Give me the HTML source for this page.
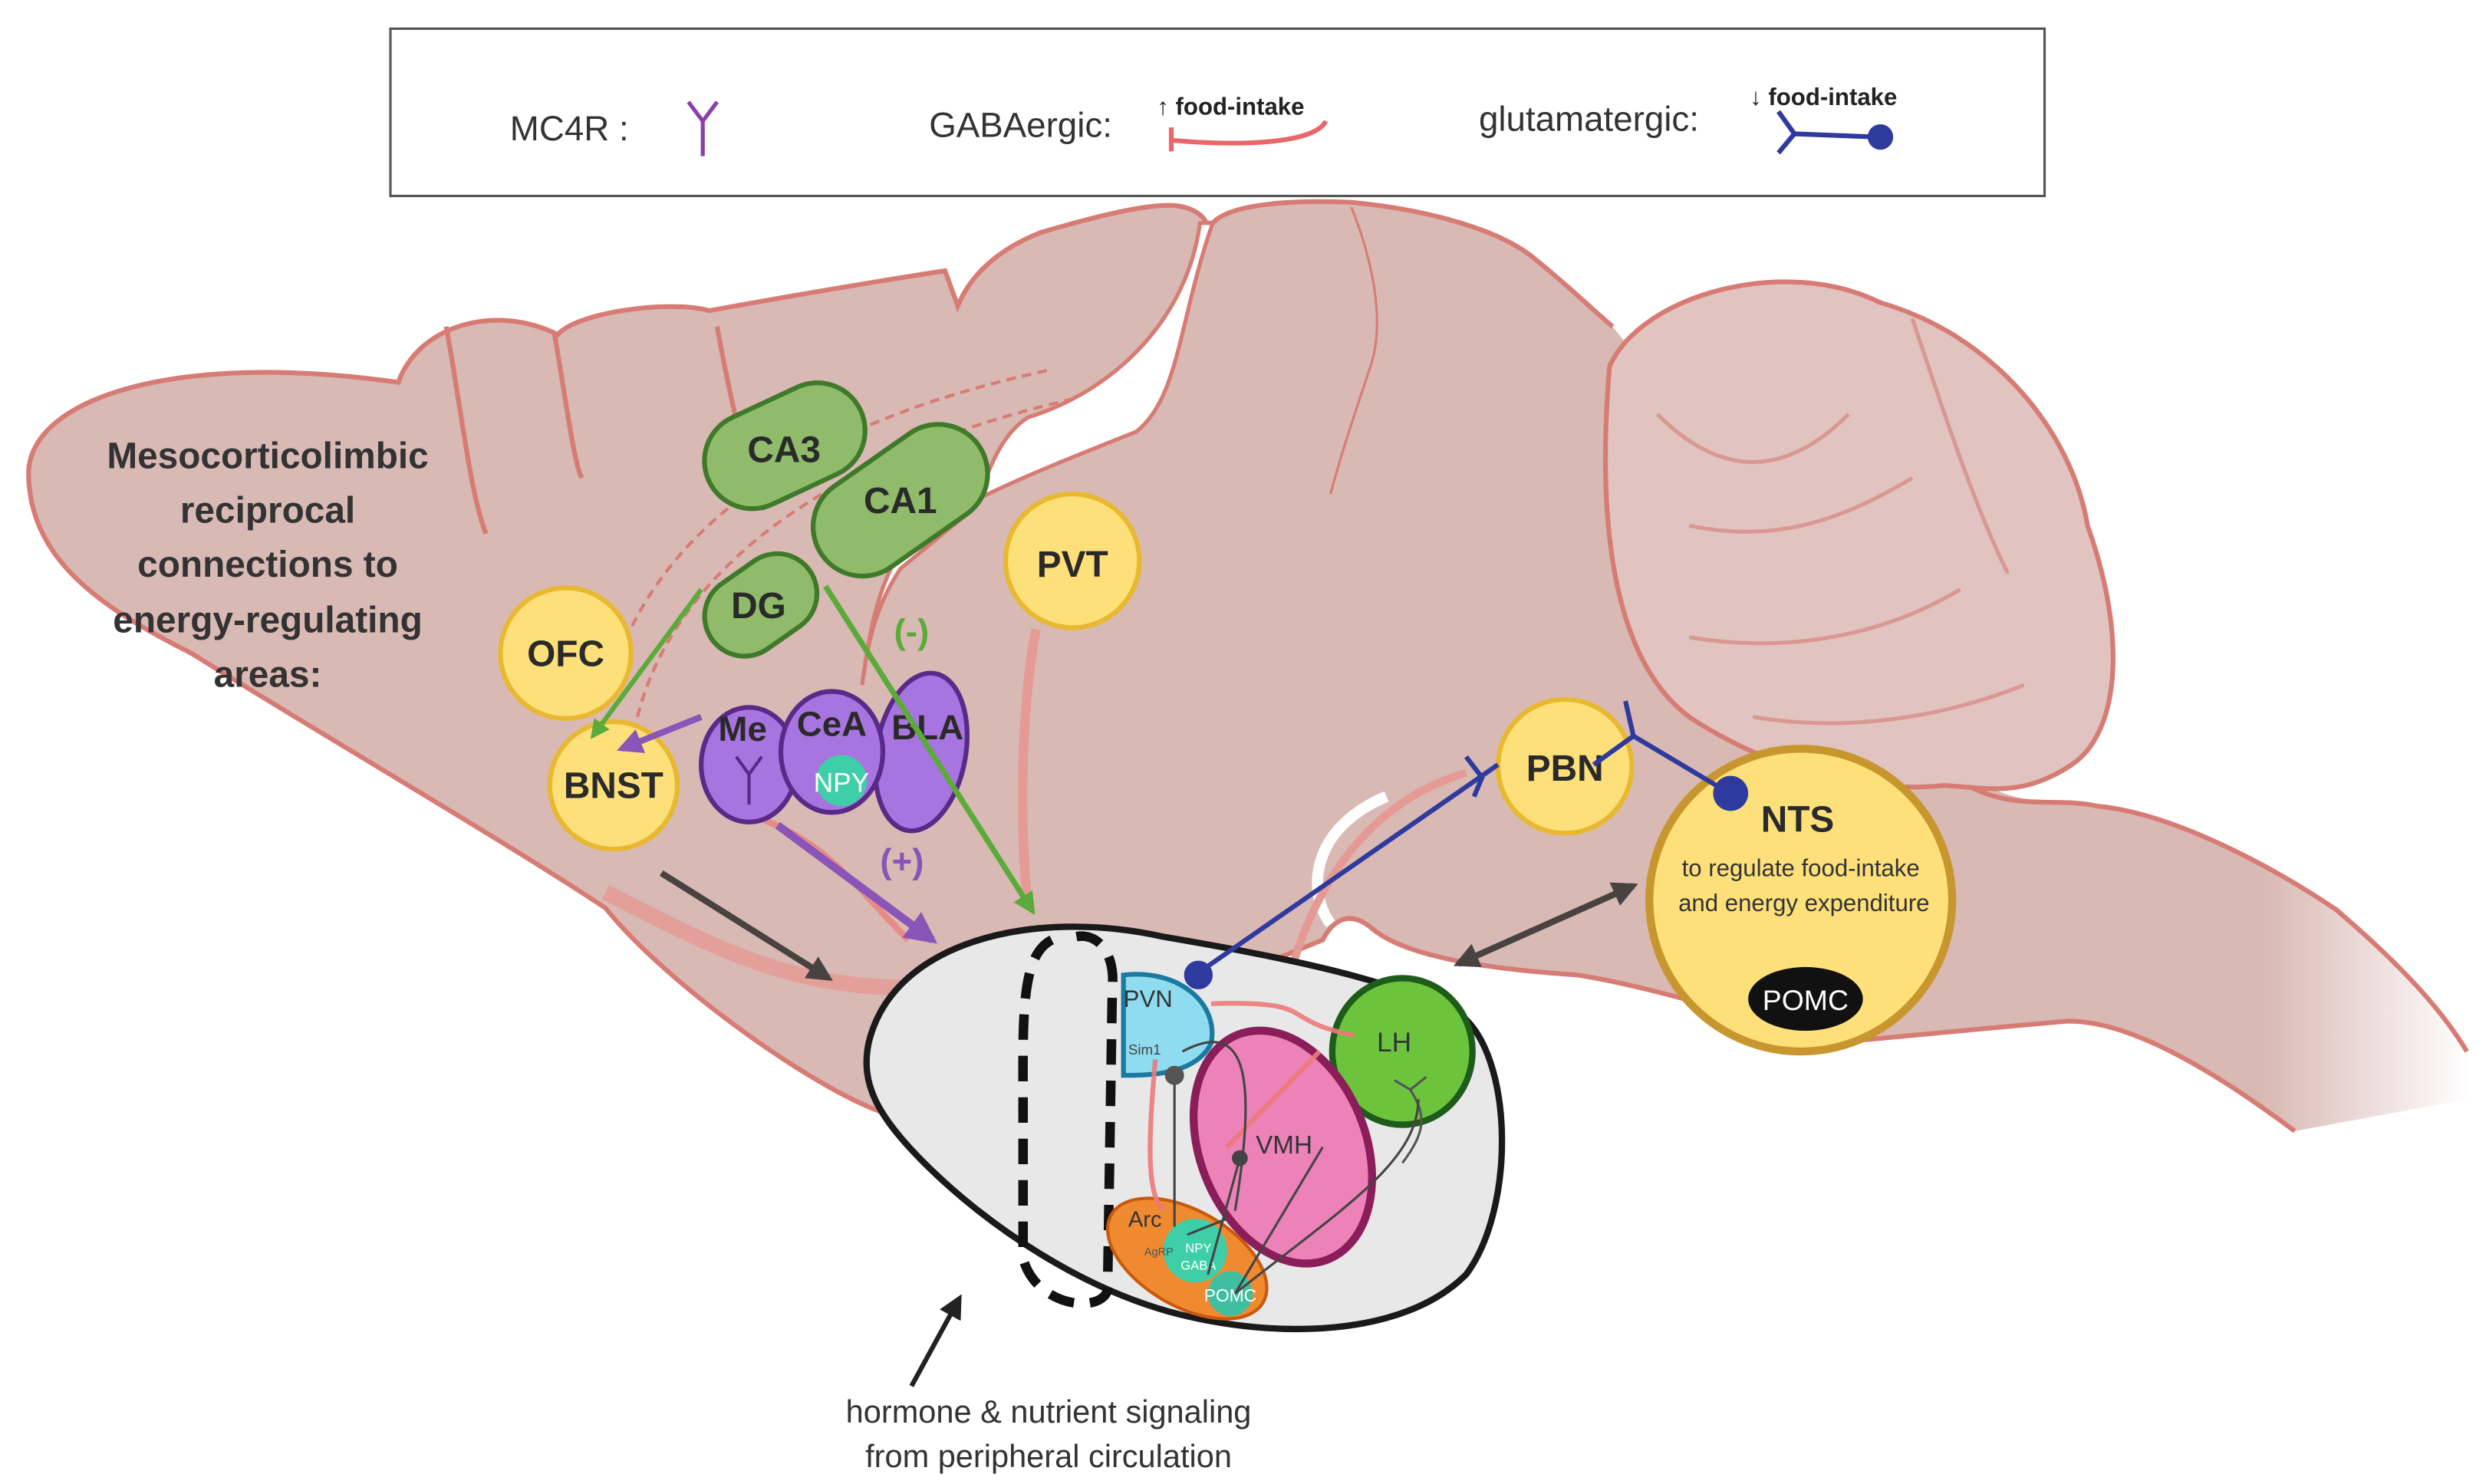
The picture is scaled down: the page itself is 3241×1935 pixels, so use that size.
<!DOCTYPE html>
<html><head><meta charset="utf-8"><style>
html,body{margin:0;padding:0;background:#fff;}
svg{display:block;}
text{font-family:"Liberation Sans",sans-serif;}
</style></head><body>
<svg width="3241" height="1935" viewBox="0 0 1560 931.5" preserveAspectRatio="none" xmlns="http://www.w3.org/2000/svg">
<defs>
<linearGradient id="fade" gradientUnits="userSpaceOnUse" x1="1420" x2="1550" y1="0" y2="0">
<stop offset="0" stop-color="#d9b9b3"/><stop offset="1" stop-color="#d9b9b3" stop-opacity="0"/>
</linearGradient>
<marker id="ag" viewBox="0 0 10 10" refX="8" refY="5" markerWidth="4" markerHeight="4" orient="auto"><path d="M0,0L10,5L0,10z" fill="#5aab3a"/></marker>
<marker id="ap" viewBox="0 0 10 10" refX="8" refY="5" markerWidth="4" markerHeight="4" orient="auto"><path d="M0,0L10,5L0,10z" fill="#8a55b8"/></marker>
<marker id="ad" viewBox="0 0 10 10" refX="8" refY="5" markerWidth="4" markerHeight="4" orient="auto"><path d="M0,0L10,5L0,10z" fill="#484341"/></marker>
<marker id="ads" viewBox="0 0 10 10" refX="2" refY="5" markerWidth="4" markerHeight="4" orient="auto"><path d="M10,0L0,5L10,10z" fill="#484341"/></marker>
<marker id="ak" viewBox="0 0 10 10" refX="8" refY="5" markerWidth="5" markerHeight="5" orient="auto"><path d="M0,0L10,5L0,10z" fill="#222"/></marker>
</defs>
<rect width="1560" height="931.5" fill="#fff"/>
<!-- legend -->
<rect x="245" y="18" width="1038" height="105" fill="#fff" stroke="#555" stroke-width="1.5"/>
<text x="320" y="88" font-size="22" fill="#333">MC4R :</text>
<path d="M432,64 L441,76 L450,64 M441,76 L441,98" stroke="#8a3fb0" stroke-width="2.5" fill="none"/>
<text x="583" y="86" font-size="22" fill="#333">GABAergic:</text>
<text x="726" y="72" font-size="15" font-weight="bold" fill="#222">↑ food-intake</text>
<path d="M735,80 L735,95 M735,88 C780,92 825,90 832,76" stroke="#e8686a" stroke-width="3" fill="none"/>
<text x="928" y="82" font-size="22" fill="#333">glutamatergic:</text>
<text x="1098" y="66" font-size="15" font-weight="bold" fill="#222">↓ food-intake</text>
<path d="M1116,70 L1126,84 L1116,96 M1126,84 L1178,86" stroke="#2f3a9e" stroke-width="3" fill="none"/>
<circle cx="1180" cy="86" r="8" fill="#2f3a9e"/>
<!-- brain -->
<path d="M18,300 C15,250 110,220 250,240 C262,205 310,190 350,210 C362,196 420,188 445,195 C500,185 560,175 593,170 L601,192 C610,170 630,155 653,146 C690,135 720,128 737,129 C748,130 755,135 757,140 L761,140 C770,130 800,125 848,127 C900,132 940,145 960,160 C985,180 1000,195 1012,205 L1230,480 C1260,510 1290,500 1316,506 C1360,510 1420,540 1466,571 C1500,600 1530,630 1548,660 L1548,690 L1440,710 C1400,680 1340,640 1297,641 C1250,645 1200,650 1156,654 C1100,640 1040,620 990,612 C930,608 880,600 860,582 C845,570 835,580 830,590 L560,700 C520,690 420,620 380,570 C320,530 200,460 120,410 C60,380 20,350 18,300 Z" fill="url(#fade)"/>
<path d="M1548,660 C1530,630 1500,600 1466,571 C1420,540 1360,510 1316,506 C1290,500 1260,510 1230,490 M1440,710 C1400,680 1340,640 1297,641 C1250,645 1200,650 1156,654 C1100,640 1040,620 990,612 C930,608 880,600 860,582 C845,570 835,580 830,590 L560,700 C520,690 420,620 380,570 C320,530 200,460 120,410 C60,380 20,350 18,300 C15,250 110,220 250,240 C262,205 310,190 350,210 C362,196 420,188 445,195 C500,185 560,175 593,170 L601,192 C610,170 630,155 653,146 C690,135 720,128 737,129 C748,130 755,135 757,140 L761,140 C770,130 800,125 848,127 C900,132 940,145 960,160 C985,180 1000,195 1012,205" fill="none" stroke="#d77c75" stroke-width="3"/>
<!-- gyri lines -->
<path d="M280,205 C290,260 295,310 305,335" stroke="#d77c75" stroke-width="3" fill="none"/>
<path d="M348,210 C355,250 360,290 365,300" stroke="#d77c75" stroke-width="3" fill="none"/>
<path d="M450,205 C460,260 470,300 480,320" stroke="#d77c75" stroke-width="3" fill="none"/>
<path d="M848,130 C860,160 870,200 860,230 C850,260 840,290 835,310" stroke="#d77c75" stroke-width="1.5" fill="none"/>
<!-- white wedge -->
<path d="M753,140 C745,200 700,245 645,262 C625,275 620,300 610,320 L565,357 C550,380 545,400 541,430 C545,400 550,370 565,346 C590,320 640,300 713,271 C740,250 740,200 761,140 Z" fill="#fff" stroke="#d77c75" stroke-width="2.5"/>
<path d="M835,580 C820,560 822,520 870,500" stroke="#fff" stroke-width="7" fill="none"/>
<!-- cerebellum -->
<path d="M1010,230 C1030,185 1120,160 1180,190 C1250,210 1300,270 1310,330 C1335,400 1330,460 1300,480 C1270,500 1250,495 1220,493 C1150,500 1090,470 1060,450 C1020,420 1000,350 1010,230 Z" fill="#e1c4c0" stroke="#d77c75" stroke-width="3"/>
<path d="M1040,260 C1080,300 1120,300 1160,260 M1060,330 C1110,340 1150,330 1200,300 M1060,400 C1120,410 1180,400 1230,370 M1100,450 C1160,460 1220,450 1270,430 M1200,200 C1220,260 1240,320 1260,360" stroke="#d99892" stroke-width="2.5" fill="none"/>
<!-- dashed hippocampal tract -->
<path d="M380,440 C400,350 480,270 660,232 M400,450 C420,370 500,290 675,250" stroke="#d77c75" stroke-width="2" stroke-dasharray="6,4" fill="none"/>
<!-- salmon tracts -->
<path d="M380,560 C440,590 490,620 570,620" stroke="#e59a95" stroke-width="10" fill="none" opacity="0.8"/>
<path d="M650,395 C640,450 640,520 645,570" stroke="#e59a95" stroke-width="6" fill="none"/>
<path d="M810,610 C830,540 870,500 920,485" stroke="#e59a95" stroke-width="5" fill="none"/>
<path d="M480,515 C520,530 540,560 570,590" stroke="#e88a85" stroke-width="4" fill="none"/>
<!-- text left -->
<g font-size="23" font-weight="bold" fill="#333" text-anchor="middle">
<text x="168" y="294">Mesocorticolimbic</text>
<text x="168" y="328">reciprocal</text>
<text x="168" y="362">connections to</text>
<text x="168" y="397">energy-regulating</text>
<text x="168" y="431">areas:</text>
</g>
<!-- hippocampus -->
<g stroke="#3f7a2a" stroke-width="3" fill="#8fbb6a">
<rect x="440" y="250" width="105" height="60" rx="30" transform="rotate(-25 492 280)"/>
<rect x="505" y="283" width="120" height="62" rx="31" transform="rotate(-35 565 314)"/>
<rect x="440" y="355" width="75" height="50" rx="25" transform="rotate(-35 477 380)"/>
</g>
<g font-size="23" font-weight="bold" fill="#2a2a2a" text-anchor="middle">
<text x="492" y="290">CA3</text><text x="565" y="322">CA1</text><text x="476" y="388">DG</text>
</g>
<!-- amygdala -->
<g fill="#a874e0" stroke="#5a2a88" stroke-width="3">
<ellipse cx="578" cy="472" rx="28" ry="50" transform="rotate(10 578 472)"/>
<ellipse cx="470" cy="480" rx="30" ry="36"/>
<ellipse cx="522" cy="472" rx="32" ry="38"/>
</g>
<circle cx="528" cy="490" r="16" fill="#3fcfa8"/>
<text x="528" y="497" font-size="17" fill="#fff" text-anchor="middle">NPY</text>
<path d="M462,475 L470,486 L478,475 M470,486 L470,505" stroke="#5a2a88" stroke-width="2" fill="none"/>
<g font-size="22" font-weight="bold" fill="#2a2a2a" text-anchor="middle">
<text x="466" y="465">Me</text><text x="522" y="462">CeA</text><text x="582" y="464">BLA</text>
</g>
<!-- yellow nodes -->
<g fill="#fde07a" stroke="#e8b830" stroke-width="3">
<circle cx="355" cy="410" r="41"/><circle cx="385" cy="493" r="40"/>
<circle cx="673" cy="352" r="42"/><circle cx="982" cy="481" r="42"/>
<circle cx="1130" cy="565" r="95" stroke="#c8962e" stroke-width="5"/>
</g>
<g font-size="23" font-weight="bold" fill="#2a2a2a" text-anchor="middle">
<text x="355" y="418">OFC</text><text x="385" y="501">BNST</text><text x="673" y="362">PVT</text><text x="982" y="490">PBN</text><text x="1128" y="522">NTS</text>
</g>
<text x="1130" y="550" font-size="15" fill="#333" text-anchor="middle">to regulate food-intake</text>
<text x="1132" y="572" font-size="15" fill="#333" text-anchor="middle">and energy expenditure</text>
<ellipse cx="1133" cy="627" rx="36" ry="20" fill="#111"/>
<text x="1133" y="634" font-size="18" fill="#fff" text-anchor="middle">POMC</text>
<!-- arrows -->
<path d="M440,370 L372,462" stroke="#5aab3a" stroke-width="3" fill="none" marker-end="url(#ag)"/>
<path d="M518,368 L648,572" stroke="#5aab3a" stroke-width="3.5" fill="none" marker-end="url(#ag)"/>
<path d="M440,450 L390,470" stroke="#8a55b8" stroke-width="4" fill="none" marker-end="url(#ap)"/>
<path d="M488,518 L585,590" stroke="#8a55b8" stroke-width="5" fill="none" marker-end="url(#ap)"/>
<path d="M415,548 L520,614" stroke="#484341" stroke-width="4" fill="none" marker-end="url(#ad)"/>
<path d="M915,605 L1025,556" stroke="#484341" stroke-width="4" fill="none" marker-start="url(#ads)" marker-end="url(#ad)"/>
<text x="572" y="404" font-size="22" font-weight="bold" fill="#5aab3a" text-anchor="middle">(-)</text>
<text x="566" y="548" font-size="22" font-weight="bold" fill="#8a55b8" text-anchor="middle">(+)</text>
<!-- hypothalamus -->
<path d="M545,655 C560,590 650,570 730,588 C800,600 880,615 920,640 C950,670 950,760 920,800 C880,840 800,840 740,825 C680,810 620,770 580,730 C550,700 540,680 545,655 Z" fill="#e8e8e8" stroke="#1a1a1a" stroke-width="4"/>
<path d="M660,590 C640,600 642,640 642,700 L642,790 C650,820 690,825 695,810 L698,620 C700,600 690,585 675,588" stroke="#111" stroke-width="6" stroke-dasharray="16,10" fill="none"/>
<ellipse cx="880" cy="660" rx="44" ry="46" fill="#6cc43c" stroke="#1d5c1a" stroke-width="4"/>
<text x="864" y="660" font-size="17" fill="#333">LH</text>
<path d="M875,678 L885,684 L895,676 M885,684 C895,700 895,710 880,730" stroke="#555" stroke-width="1.5" fill="none"/>
<ellipse cx="805" cy="720" rx="52" ry="76" transform="rotate(-22 805 720)" fill="#ec82b8" stroke="#8b1e5a" stroke-width="5"/>
<text x="788" y="724" font-size="16" fill="#333">VMH</text>
<ellipse cx="745" cy="790" rx="55" ry="30" transform="rotate(30 745 790)" fill="#f08a30" stroke="#c85a10" stroke-width="2"/>
<path d="M705,612 C740,608 765,630 760,655 C750,675 720,675 705,675 Z" fill="#8fdcf0" stroke="#1a7aa0" stroke-width="3"/>
<text x="705" y="632" font-size="15" fill="#333">PVN</text>
<text x="708" y="662" font-size="9" fill="#444">Sim1</text>
<circle cx="750" cy="785" r="20" fill="#3fcfa8"/>
<text x="752" y="786" font-size="8" fill="#fff" text-anchor="middle">NPY</text>
<text x="752" y="797" font-size="8" fill="#fff" text-anchor="middle">GABA</text>
<text x="718" y="788" font-size="7" fill="#555">AgRP</text>
<text x="708" y="770" font-size="14" fill="#333">Arc</text>
<circle cx="772" cy="812" r="14" fill="#3fbfa0"/>
<text x="772" y="817" font-size="11" fill="#fff" text-anchor="middle">POMC</text>
<path d="M725,665 C720,720 720,750 730,760 M760,630 C830,628 800,640 850,650 M770,720 L828,660" stroke="#ec7a78" stroke-width="3" fill="none" opacity="0.9"/>
<g stroke="#444" stroke-width="1.5" fill="none">
<path d="M737,675 L737,770 M742,660 C780,640 790,670 775,760 M778,727 L758,800 M775,812 L830,720 M775,812 C840,760 890,730 890,690 M745,775 L770,765"/>
</g>
<circle cx="737" cy="675" r="6" fill="#555"/><circle cx="778" cy="727" r="5" fill="#444"/>
<!-- glutamatergic line -->
<path d="M750,612 L940,480 M920,475 L930,488 L925,500 M1020,440 L1025,462 L1082,496 M1025,462 L1000,480" stroke="#2f3a9e" stroke-width="3" fill="none"/>
<circle cx="752" cy="612" r="9" fill="#2f3a9e"/><circle cx="1086" cy="498" r="11" fill="#2f3a9e"/>
<!-- bottom arrow & text -->
<path d="M572,870 L602,815" stroke="#222" stroke-width="3" marker-end="url(#ak)"/>
<text x="658" y="893" font-size="20" fill="#333" text-anchor="middle">hormone &amp; nutrient signaling</text>
<text x="658" y="921" font-size="20" fill="#333" text-anchor="middle">from peripheral circulation</text>
</svg>
</body></html>
